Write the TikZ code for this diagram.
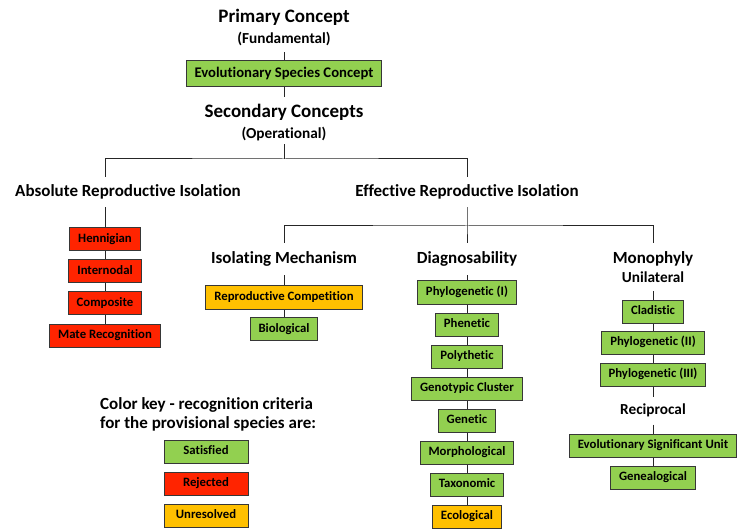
\documentclass[tikz,border=0pt]{standalone}
\usepackage{fontspec}
\setmainfont{Carlito}[Ligatures=NoCommon]
\definecolor{keygreen}{RGB}{146,208,80}
\definecolor{keyred}{RGB}{255,36,0}
\definecolor{keyorange}{RGB}{255,192,0}
\definecolor{boxline}{RGB}{55,55,55}

\tikzset{
  crit/.style={draw=boxline, line width=1pt, inner xsep=8.5pt, inner ysep=0pt, minimum height=23pt,
    font=\fontsize{12.75}{15}\selectfont\bfseries, text height=9pt, text depth=2.8pt},
  satisfied/.style={crit, fill=keygreen},
  rejected/.style={crit, fill=keyred},
  unresolved/.style={crit, fill=keyorange},
  keybox/.style={minimum width=84pt, inner xsep=0pt},
  bighead/.style={font=\fontsize{19}{22}\selectfont\bfseries, inner sep=0pt, text height=13pt, text depth=3.8pt},
  subhead/.style={font=\fontsize{15.3}{18}\selectfont\bfseries, inner sep=0pt, text height=10.8pt, text depth=3pt},
  midhead/.style={font=\fontsize{17}{20}\selectfont\bfseries, inner sep=0pt, text height=11.8pt, text depth=3.4pt, minimum height=30pt},
  keytext/.style={font=\fontsize{17}{20}\selectfont\bfseries, inner sep=0pt, anchor=west},
  link/.style={draw=black!85, line width=1pt}
}

\begin{document}
\begin{tikzpicture}[x=1pt, y=-1pt]
\useasboundingbox (0,0) rectangle (744,529);

% fundamental level
\node[bighead] (primary) at (284,18) {Primary Concept};
\node[subhead, minimum height=24pt] (fund) at (284,40) {(Fundamental)};
\node[satisfied, font=\fontsize{14.7}{17}\selectfont\bfseries, minimum height=26pt] (esc) at (284,74) {Evolutionary Species Concept};
\node[bighead, minimum height=32pt] (second) at (284,113) {Secondary Concepts};
\node[subhead, minimum height=18pt] (oper) at (284,135) {(Operational)};
\coordinate (split) at (284,159);

% two branches
\node[midhead] (absri) at (128,192) {Absolute Reproductive Isolation};
\node[midhead] (effri) at (467,192) {Effective Reproductive Isolation};
\coordinate (effsplit) at (467,226);

% absolute reproductive isolation
\node[rejected] (henn) at (105,239) {Hennigian};
\node[rejected] (intern) at (105,271) {Internodal};
\node[rejected] (compo) at (105,303) {Composite};
\node[rejected] (mate) at (105,335.5) {Mate Recognition};

% effective reproductive isolation
\node[midhead, minimum height=32pt] (isol) at (284,259) {Isolating Mechanism};
\node[midhead, minimum height=32pt] (diag) at (467,259) {Diagnosability};
\node[midhead, minimum height=32pt] (mono) at (653,259) {Monophyly};
\node[subhead, minimum height=24pt] (unil) at (653,279) {Unilateral};
\node[subhead, minimum height=27pt] (recip) at (653,411) {Reciprocal};

\node[unresolved] (repcomp) at (284,297.5) {Reproductive Competition};
\node[satisfied] (biol) at (284,329) {Biological};

\node[satisfied] (phyI) at (467,292.5) {Phylogenetic (I)};
\node[satisfied] (phen) at (467,324.5) {Phenetic};
\node[satisfied] (polyt) at (467,356.5) {Polythetic};
\node[satisfied] (genclus) at (467,388.5) {Genotypic Cluster};
\node[satisfied] (genet) at (467,420.5) {Genetic};
\node[satisfied] (morph) at (467,452.5) {Morphological};
\node[satisfied] (taxo) at (467,484.5) {Taxonomic};
\node[unresolved] (ecol) at (467,516.5) {Ecological};

\node[satisfied] (clad) at (653,311.5) {Cladistic};
\node[satisfied] (phyII) at (653,342.5) {Phylogenetic (II)};
\node[satisfied] (phyIII) at (653,374.5) {Phylogenetic (III)};
\node[satisfied] (esu) at (653,445.5) {Evolutionary Significant Unit};
\node[satisfied] (geneal) at (653,477.5) {Genealogical};

% color key
\node[keytext] (keyA) at (100,405) {Color key - recognition criteria};
\node[keytext] (keyB) at (100,424) {for the provisional species are:};
\node[satisfied, keybox] (ksat) at (206,451.5) {Satisfied};
\node[rejected, keybox] (krej) at (206,483.5) {Rejected};
\node[unresolved, keybox] (kunr) at (206,515.5) {Unresolved};

% connectors
\draw[link] (fund) -- (esc) -- (second);
\draw[link] (oper) -- (split);
\draw[link] (absri.north -| henn) |- (split) -| (effri);
\draw[link] (henn |- absri.south) -- (henn) -- (intern) -- (compo) -- (mate);
\draw[link] (effri) -- (effsplit) -- (diag);
\draw[link] (isol) |- (effsplit) -| (mono);
\draw[link] (isol) -- (repcomp) -- (biol);
\draw[link] (diag) -- (phyI) -- (phen) -- (polyt) -- (genclus) -- (genet) -- (morph) -- (taxo) -- (ecol);
\draw[link] (unil) -- (clad) -- (phyII) -- (phyIII) -- (recip) -- (esu) -- (geneal);
\end{tikzpicture}
\end{document}
